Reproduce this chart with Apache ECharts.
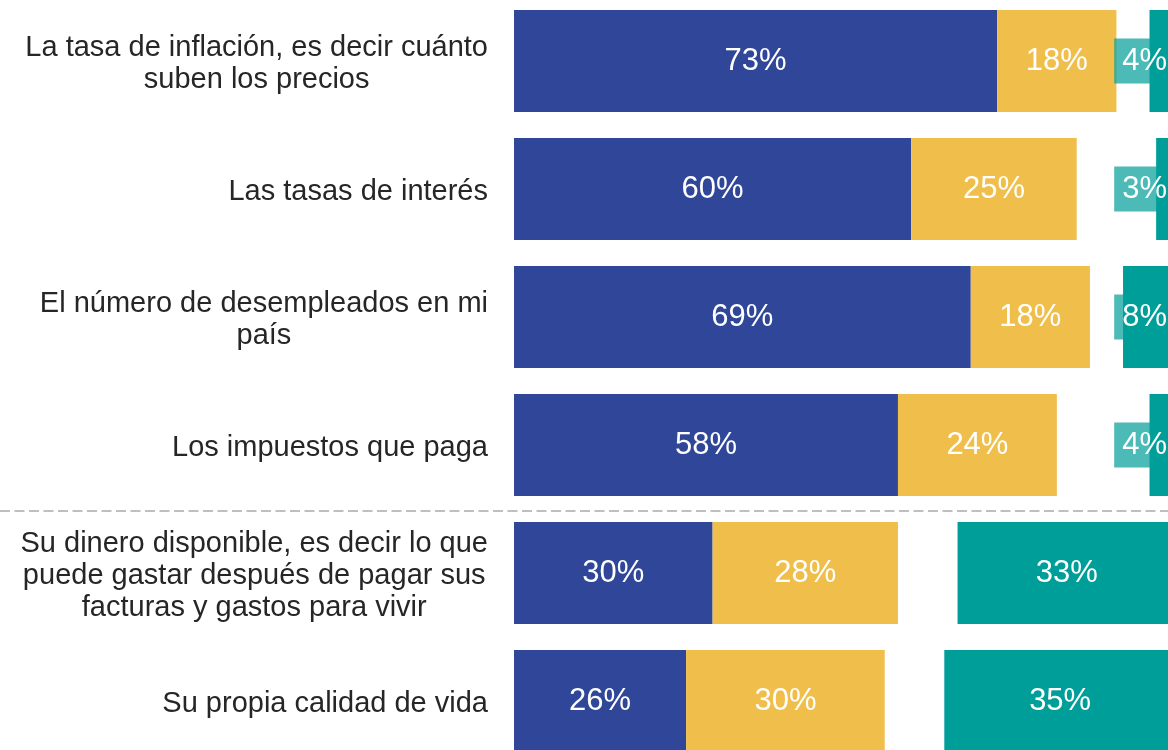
<!DOCTYPE html>
<html>
<head>
<meta charset="utf-8">
<script src="https://cdn.jsdelivr.net/npm/echarts@6/dist/echarts.min.js"></script>
<style>
  html, body { margin: 0; padding: 0; background: #fff; }
  #chart { width: 1168px; height: 750px; }
</style>
</head>
<body>
<div id="chart"></div>
<script>
const categories = [
  'La tasa de inflación, es decir cuánto\nsuben los precios',
  'Las tasas de interés',
  'El número de desempleados en mi\npaís',
  'Los impuestos que paga',
  'Su dinero disponible, es decir lo que\npuede gastar después de pagar sus\nfacturas y gastos para vivir',
  'Su propia calidad de vida'
]
const blueValues = [73, 60, 69, 58, 30, 26]
const yellowValues = [18, 25, 18, 24, 28, 30]
const gapValues = [5, 12, 5, 14, 9, 9]
const tealValues = [4, 3, 8, 4, 33, 35]

const font = "'Liberation Sans', Arial, sans-serif"
const chart = echarts.init(document.getElementById('chart'), null, { renderer: 'canvas' })

const valueLabel = {
  show: true,
  position: 'inside',
  color: '#fff',
  fontSize: 31,
  fontFamily: font,
  padding: [4, 0, 0, 0],
  formatter: p => p.value + '%'
}

const tealData = tealValues.map(v => {
  if (v < 10) {
    return {
      value: v,
      label: {
        position: 'insideRight',
        distance: 1,
        backgroundColor: 'rgba(0,158,153,0.7)',
        padding: [8, 8, 6, 8]
      }
    }
  }
  return { value: v }
})

chart.setOption({
  animation: false,
  grid: { left: 514, top: -3, width: 662, height: 768, containLabel: false, outerBoundsMode: 'none' },
  xAxis: { type: 'value', min: 0, max: 100, show: false },
  yAxis: {
    type: 'category',
    inverse: true,
    data: categories,
    axisLine: { show: false },
    axisTick: { show: false },
    splitLine: { show: false },
    axisLabel: {
      margin: 26,
      align: 'right',
      color: '#262626',
      fontFamily: font,
      fontSize: 29,
      lineHeight: 32,
      padding: [5, 0, 0, 0],
      formatter: v => v.split('\n').map(l => '{c|' + l + '}').join('\n'),
      rich: {
        c: { align: 'center', color: '#262626', fontFamily: font, fontSize: 29, lineHeight: 32 }
      }
    }
  },
  series: [
    { name: 'blue', type: 'bar', stack: 't', barWidth: 102, itemStyle: { color: '#2f4699' }, label: valueLabel, data: blueValues },
    { name: 'yellow', type: 'bar', stack: 't', barWidth: 102, itemStyle: { color: '#f0be4a' }, label: valueLabel, data: yellowValues },
    { name: 'gap', type: 'bar', stack: 't', barWidth: 102, silent: true, itemStyle: { color: 'transparent' }, data: gapValues },
    { name: 'teal', type: 'bar', stack: 't', barWidth: 102, itemStyle: { color: '#009e99' }, label: valueLabel, data: tealData }
  ]
})

// dashed separator between the 4th and 5th rows
const y1 = chart.convertToPixel({ yAxisIndex: 0 }, 3)
const y2 = chart.convertToPixel({ yAxisIndex: 0 }, 4)
const sepY = Math.round((y1 + y2) / 2) + 2
chart.setOption({
  graphic: [{
    type: 'line',
    shape: { x1: 0, y1: sepY, x2: 1168, y2: sepY },
    style: { stroke: '#bfbfbf', lineWidth: 2, lineDash: [10, 4.5] },
    z: 1
  }]
})
</script>
</body>
</html>
